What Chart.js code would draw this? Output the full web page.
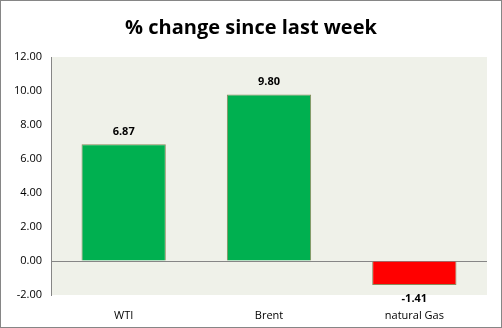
<!DOCTYPE html>
<html>
<head>
<meta charset="utf-8">
<script src="https://cdn.jsdelivr.net/npm/chart.js@4"></script>
<style>
  html, body { margin: 0; padding: 0; background: #fff; }
  #wrap { width: 500px; height: 326px; border: 1px solid #868686; position: relative; }
</style>
</head>
<body>
<div id="wrap"><canvas id="chart" width="500" height="326"></canvas></div>
<script>
// Data
const categories = ['WTI', 'Brent', 'natural Gas'];
const changes = [6.87, 9.80, -1.41];
const barColors = ['#00b050', '#00b050', '#ff0000'];
const yTicks = [-2, 0, 2, 4, 6, 8, 10, 12];

const fontFamily = "'Open Sans', 'DejaVu Sans', sans-serif";

// fill the plot area with the light background
const plotBackground = {
    id: 'plotBackground',
    beforeDraw(chart) {
        const a = chart.chartArea;
        const ctx = chart.ctx;
        ctx.save();
        ctx.fillStyle = '#eff1e9';
        ctx.fillRect(a.left, a.top, a.right - a.left, a.bottom - a.top);
        ctx.restore();
    }
};

// value labels on top of / below each bar
const valueLabels = {
    id: 'valueLabels',
    afterDatasetsDraw(chart) {
        const ctx = chart.ctx;
        const meta = chart.getDatasetMeta(0);
        ctx.save();
        ctx.font = 'bold 11px ' + fontFamily;
        ctx.fillStyle = '#000';
        ctx.textAlign = 'center';
        meta.data.forEach((bar, i) => {
            const v = changes[i];
            if (v >= 0) {
                ctx.textBaseline = 'bottom';
                ctx.fillText(v.toFixed(2), bar.x, bar.y - 7);
            } else {
                ctx.textBaseline = 'top';
                ctx.fillText(v.toFixed(2), bar.x, bar.y + 8);
            }
        });
        ctx.restore();
    }
};

new Chart(document.getElementById('chart'), {
    type: 'bar',
    data: {
        labels: categories,
        datasets: [{
            data: changes,
            backgroundColor: barColors,
            borderColor: '#8a8a5c',
            borderWidth: 1,
            categoryPercentage: 0.58,
            barPercentage: 1.0
        }]
    },
    options: {
        responsive: false,
        animation: false,
        layout: { padding: { left: 14, right: 14, top: 0, bottom: 2 } },
        plugins: {
            legend: { display: false },
            tooltip: { enabled: false },
            title: {
                display: true,
                text: '% change since last week',
                color: '#000',
                font: { family: fontFamily, size: 20, weight: 'bold' },
                padding: { top: 15, bottom: 17 }
            }
        },
        scales: {
            x: {
                afterFit(scale) { scale.height = 30; },
                grid: { display: false },
                border: { display: false },
                ticks: {
                    color: '#000',
                    padding: 6,
                    font: { family: fontFamily, size: 11 }
                }
            },
            y: {
                min: -2,
                max: 12,
                afterBuildTicks(scale) {
                    scale.ticks = yTicks.map(v => ({ value: v }));
                },
                afterFit(scale) { scale.width = 36; },
                grid: {
                    drawTicks: false,
                    color: ctx => ctx.tick && ctx.tick.value === 0 ? '#868686' : 'rgba(0,0,0,0)'
                },
                border: { display: true, color: '#868686' },
                ticks: {
                    color: '#000',
                    padding: 9,
                    font: { family: fontFamily, size: 11 },
                    callback: v => Number(v).toFixed(2)
                }
            }
        }
    },
    plugins: [plotBackground, valueLabels]
});
</script>
</body>
</html>
